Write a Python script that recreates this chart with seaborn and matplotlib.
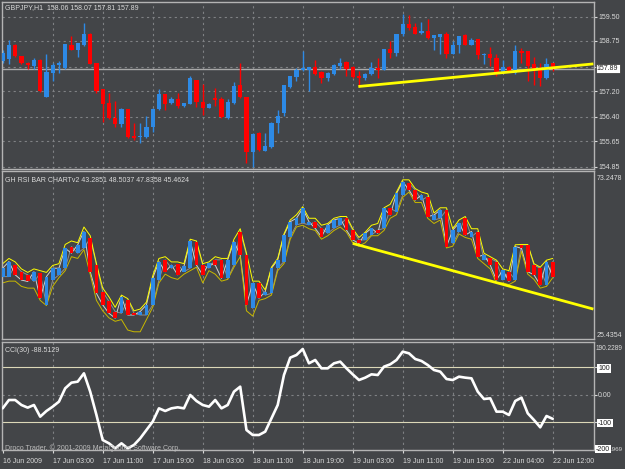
import matplotlib
matplotlib.use("Agg")
import matplotlib.pyplot as plt
import numpy as np
import pandas as pd
import seaborn as sns

# ---------------- data ----------------
opens = [158.12, 158.19, 158.64, 158.28, 158.06, 157.97, 158.15, 157.02, 157.76, 158.00,
         157.91, 158.64, 158.46, 158.64, 158.95, 158.06, 157.27, 156.84, 156.38, 156.17,
         156.63, 155.80, 155.77, 155.77, 156.08, 156.63, 157.11, 156.84, 156.96, 156.75,
         156.81, 157.54, 156.87, 156.69, 156.99, 156.96, 156.38, 156.84, 157.39, 157.02,
         155.31, 155.89, 155.34, 155.46, 156.20, 156.53, 157.33, 157.63, 157.85, 157.85,
         157.94, 157.79, 157.60, 157.73, 157.97, 158.09, 157.94, 157.67, 157.60, 157.73,
         157.91, 157.85, 158.49, 158.37, 158.95, 159.26, 159.19, 159.01, 159.07, 158.83,
         158.86, 158.98, 158.34, 158.64, 158.92, 158.64, 158.80, 158.31, 158.34, 158.22,
         157.79, 157.94, 157.76, 158.43, 158.43, 158.03, 157.88, 157.60, 158.06]
highs = [158.46, 158.77, 158.67, 158.28, 158.09, 158.22, 158.19, 158.34, 158.06, 158.12,
         158.67, 158.89, 158.70, 159.29, 159.01, 158.06, 157.27, 157.15, 156.90, 156.66,
         156.63, 156.20, 156.20, 156.44, 156.69, 157.27, 157.11, 157.02, 157.15, 156.84,
         157.67, 157.54, 157.42, 156.84, 157.30, 157.02, 156.96, 157.48, 158.06, 157.02,
         155.89, 155.92, 155.89, 156.23, 156.60, 157.39, 157.67, 157.91, 158.43, 157.94,
         158.15, 157.82, 157.79, 158.03, 158.22, 158.12, 157.97, 157.82, 157.76, 158.09,
         158.22, 158.49, 158.74, 158.95, 159.59, 159.56, 159.29, 159.35, 159.44, 158.92,
         158.98, 159.04, 158.74, 158.89, 158.95, 158.83, 158.80, 158.37, 158.55, 158.34,
         158.15, 157.97, 158.61, 158.52, 158.43, 158.25, 158.06, 158.22, 158.07]
lows = [158.06, 158.03, 158.25, 158.03, 157.88, 157.88, 157.18, 157.02, 157.51, 157.76,
        157.88, 158.46, 158.25, 158.58, 158.03, 157.15, 156.23, 156.35, 156.08, 156.08,
        155.74, 155.68, 155.59, 155.74, 155.92, 156.60, 156.60, 156.81, 156.69, 156.72,
        156.81, 156.72, 156.47, 156.66, 156.75, 156.38, 156.35, 156.81, 156.99, 154.97,
        154.85, 155.34, 155.34, 155.43, 155.89, 156.44, 157.30, 157.51, 157.82, 157.21,
        157.70, 157.45, 157.51, 157.70, 157.88, 157.67, 157.60, 157.36, 157.54, 157.70,
        157.60, 157.85, 158.22, 158.28, 158.89, 159.10, 158.95, 158.95, 158.80, 158.46,
        158.34, 158.22, 158.34, 158.37, 158.61, 158.61, 158.19, 158.03, 157.97, 157.67,
        157.76, 157.79, 157.73, 158.06, 157.51, 157.39, 157.36, 157.57, 157.81]
closes = [158.37, 158.61, 158.28, 158.06, 158.00, 158.15, 157.21, 157.79, 158.00, 158.06,
          158.67, 158.46, 158.70, 158.95, 158.03, 157.21, 156.81, 156.38, 156.17, 156.63,
          155.77, 155.74, 155.80, 156.08, 156.63, 157.11, 156.81, 156.96, 156.75, 156.84,
          157.60, 156.87, 156.69, 156.81, 156.93, 156.41, 156.87, 157.36, 157.02, 155.31,
          155.86, 155.37, 155.50, 156.20, 156.44, 157.39, 157.67, 157.85, 157.91, 157.94,
          157.73, 157.60, 157.76, 158.00, 158.06, 157.88, 157.63, 157.60, 157.73, 157.91,
          157.85, 158.49, 158.37, 158.95, 159.26, 159.16, 158.98, 159.07, 158.83, 158.92,
          158.95, 158.34, 158.64, 158.89, 158.64, 158.77, 158.31, 158.34, 158.22, 157.79,
          157.94, 157.82, 158.43, 158.37, 157.97, 157.82, 157.60, 158.03, 157.89]

rsi_open = [43.3, 43.3, 46.6, 44.7, 43.8, 41.9, 44.2, 35.2, 42.3, 43.8,
            45.7, 51.9, 50.0, 51.4, 54.3, 46.6, 39.0, 36.2, 33.3, 32.8,
            36.6, 32.8, 32.3, 32.3, 35.2, 42.3, 48.1, 45.7, 46.8, 44.7,
            45.7, 53.1, 46.6, 45.7, 48.1, 48.1, 42.8, 46.6, 56.2, 49.5,
            34.2, 41.4, 38.0, 38.5, 45.7, 47.6, 54.7, 58.1, 58.6, 58.1,
            59.0, 57.1, 55.7, 57.1, 58.1, 60.0, 56.6, 53.8, 53.8, 55.2,
            56.6, 57.1, 62.8, 61.9, 66.7, 70.0, 68.1, 65.2, 66.2, 59.5,
            60.0, 62.4, 52.8, 56.2, 60.0, 54.7, 56.2, 48.1, 48.5, 47.6,
            42.3, 44.7, 42.3, 52.4, 52.4, 46.6, 45.7, 40.9, 47.6]
rsi_close = [45.7, 47.6, 43.8, 42.3, 41.9, 44.7, 37.1, 43.3, 45.7, 45.7,
             51.4, 50.0, 52.4, 56.2, 44.7, 38.5, 35.2, 32.8, 31.4, 37.6,
             32.3, 32.3, 33.3, 35.2, 42.8, 47.6, 44.7, 46.6, 43.8, 46.2,
             53.5, 46.6, 43.8, 47.1, 46.6, 42.8, 48.1, 53.3, 49.5, 35.2,
             41.4, 37.1, 39.0, 45.7, 48.1, 55.2, 59.0, 60.0, 62.8, 59.0,
             57.1, 54.7, 58.1, 59.5, 60.0, 56.6, 53.8, 52.8, 55.7, 57.1,
             55.7, 62.8, 60.9, 67.1, 70.5, 68.1, 65.2, 66.7, 60.5, 60.9,
             62.4, 51.9, 56.6, 58.6, 55.2, 56.2, 49.0, 49.5, 46.6, 42.3,
             45.2, 41.9, 51.9, 51.4, 44.7, 43.8, 40.9, 47.6, 43.3]
rsi_high = [47.0, 48.5, 47.5, 45.5, 44.5, 45.5, 45.0, 44.5, 46.5, 47.0,
            52.5, 53.5, 53.0, 57.5, 55.0, 47.0, 40.0, 37.5, 34.5, 38.0,
            37.0, 33.5, 34.0, 36.0, 43.5, 48.5, 49.0, 47.5, 47.5, 47.0,
            54.0, 53.5, 47.0, 47.5, 49.0, 48.5, 48.5, 54.0, 57.0, 50.0,
            42.0, 42.0, 39.5, 46.0, 48.5, 55.5, 59.5, 61.0, 63.3, 60.0,
            60.0, 58.0, 58.5, 60.0, 60.5, 60.5, 57.0, 54.5, 56.0, 58.0,
            58.5, 63.0, 64.0, 67.5, 71.0, 71.0, 68.5, 67.5, 67.0, 61.5,
            63.0, 63.0, 57.0, 59.5, 60.5, 57.0, 57.0, 50.0, 49.0, 48.0,
            45.5, 45.0, 52.4, 52.5, 52.5, 47.0, 46.0, 48.0, 48.5]
rsi_low = [41.5, 42.0, 42.0, 40.5, 40.0, 40.0, 36.5, 35.0, 40.5, 43.0,
           45.0, 49.0, 48.5, 51.0, 44.0, 36.5, 33.5, 31.5, 30.5, 31.0,
           28.0, 27.5, 27.5, 31.0, 34.5, 41.5, 44.0, 43.0, 42.5, 44.0,
           45.0, 46.0, 41.5, 45.0, 44.0, 42.0, 42.5, 46.0, 49.0, 33.5,
           32.0, 36.5, 37.0, 38.0, 45.0, 47.0, 54.0, 57.5, 58.0, 57.0,
           56.5, 54.0, 55.0, 56.5, 57.5, 56.0, 53.0, 52.0, 53.0, 55.0,
           55.0, 56.5, 60.0, 61.0, 66.0, 67.5, 64.5, 64.5, 60.0, 58.5,
           59.5, 51.5, 52.0, 55.5, 54.5, 54.0, 48.5, 47.0, 45.5, 41.5,
           41.5, 41.0, 42.0, 50.5, 44.0, 42.5, 40.0, 40.5, 43.0]

cci = [-50.1, -19.7, -19.7, -37.9, -47.6, -37.9, -80.5, -59.8, -44.0, -25.7,
       22.9, 43.6, 47.3, 77.7, 10.8, -74.4, -165.7, -177.8, -196.1, -177.8,
       -196.1, -183.9, -159.6, -129.2, -98.7, -50.1, -59.8, -50.1, -46.4, -50.1,
       -1.4, -23.3, -37.9, -44.0, -19.7, -50.1, -37.9, 10.8, 29.0, -129.2,
       -147.4, -147.4, -135.2, -86.6, -37.9, 71.6, 134.9, 144.6, 166.5, 114.2,
       126.4, 95.9, 95.9, 114.2, 120.3, 95.9, 74.0, 53.3, 61.9, 74.0,
       71.6, 102.0, 110.5, 126.4, 156.8, 150.7, 130.0, 122.7, 108.1, 89.8,
       83.8, 57.0, 53.3, 65.5, 61.9, 59.4, 10.8, -16.0, -13.6, -62.2,
       -62.2, -74.4, -23.3, -11.1, -68.3, -92.7, -119.4, -78.1, -88.5]

time_labels = ["16 Jun 2009", "17 Jun 03:00", "17 Jun 11:00", "17 Jun 19:00",
               "18 Jun 03:00", "18 Jun 11:00", "18 Jun 19:00", "19 Jun 03:00",
               "19 Jun 11:00", "19 Jun 19:00", "22 Jun 04:00", "22 Jun 12:00"]
time_label_bars = [0, 8, 16, 24, 32, 40, 48, 56, 64, 72, 80, 88]

price_ticks = [159.50, 158.75, 157.95, 157.20, 156.40, 155.65, 154.85]
price_tick_labels = ["159.50", "158.75", "", "157.20", "156.40", "155.65", "154.85"]
last_price = 157.89
price_trend_bars = [56.9, 94.5]
price_trend_vals = [157.34, 158.04]
rsi_trend_bars = [56.0, 94.5]
rsi_trend_vals = [52.8, 34.0]
rsi_max, rsi_min = 73.2478, 25.4354
cci_levels = [100, -100]
cci_ticks = [100, 0, -100]
cci_tick_labels = ["100", "0.00", "-100"]

# ---------------- style ----------------
BG = "#434548"
FG = "#dadada"
BORDER = "#b4b4b4"
GRID = "#7f8184"
BULL = "#2d8ae6"
BEAR = "#ff0000"
YEL = "#ffff00"

sns.set_style("dark", rc={"axes.facecolor": BG, "figure.facecolor": BG})
plt.rcParams["font.family"] = ["Liberation Sans", "DejaVu Sans"]

W, H = 625, 469
fig = plt.figure(figsize=(W / 100, H / 100), dpi=100)
fig.patch.set_facecolor(BG)

bars = np.arange(len(opens))
grid_bars = [8, 16, 24, 32, 40, 48, 56, 64, 72, 80, 88]


def panel(top, bottom):
    ax = fig.add_axes([2 / W, 1 - bottom / H, 592 / W, (bottom - top) / H])
    ax.set_facecolor(BG)
    for s in ax.spines.values():
        s.set_visible(True)
        s.set_color(BORDER)
        s.set_linewidth(1)
    ax.set_xlim(-0.11, 94.6)
    ax.grid(False)
    ax.tick_params(axis="y", left=False, right=True, labelleft=False, labelright=True,
                   length=2, width=0.8, pad=1, labelsize=5, colors=FG)
    ax.tick_params(axis="x", bottom=False, labelbottom=False)
    for b in grid_bars:
        ax.axvline(b, ls=(0, (2, 3)), color=GRID, lw=0.8, zorder=0)
    return ax


# ---------------- price panel ----------------
ax1 = panel(2, 169)
ax1.set_ylim(154.788, 159.955)
ax1.set_yticks(price_ticks, price_tick_labels)
for p in price_ticks:
    ax1.axhline(p, ls=(0, (2, 3)), color=GRID, lw=0.8, zorder=0)
ax1.axhline(last_price, color="#a9a9a9", lw=1, zorder=1)

o = np.array(opens); c = np.array(closes)
up = c >= o
cols = np.where(up, BULL, BEAR)
ax1.vlines(bars, lows, highs, colors=cols, lw=1, zorder=2)
ax1.bar(bars, np.maximum(np.abs(c - o), 0.025), bottom=np.minimum(o, c), width=0.66,
        color=cols, linewidth=0, zorder=3)
ax1.plot(price_trend_bars, price_trend_vals, color=YEL, lw=2, zorder=4,
         solid_capstyle="butt")
ax1.text(1.005, last_price, "157.89", transform=ax1.get_yaxis_transform(), ha="left",
         va="center", fontsize=5, color="#202020",
         bbox=dict(boxstyle="square,pad=0.15", fc="white", ec="#303030", lw=0.5))

# ---------------- RSI bar chart panel ----------------
ax2 = panel(171, 339)
ax2.set_ylim(rsi_min, 73.53)
ax2.tick_params(axis="y", right=False, labelright=False)
df_rsi = pd.DataFrame({"bar": bars, "open": rsi_open, "close": rsi_close,
                       "high": rsi_high, "low": rsi_low})
sns.lineplot(data=df_rsi, x="bar", y="open", color="#8e8e8e", lw=0.7, ax=ax2, zorder=2)
sns.lineplot(data=df_rsi, x="bar", y="close", color="#cfcfcf", lw=0.7, ax=ax2, zorder=2)
sns.lineplot(data=df_rsi, x="bar", y="low", color="#c8b800", lw=0.7, ax=ax2, zorder=2)
sns.lineplot(data=df_rsi, x="bar", y="high", color=YEL, lw=0.7, ax=ax2, zorder=2)
ro = np.array(rsi_open); rc = np.array(rsi_close)
rcols = np.where(rc >= ro, BULL, BEAR)
ax2.bar(bars, np.abs(rc - ro), bottom=np.minimum(ro, rc), width=0.6, color=rcols,
        linewidth=0, zorder=3)
ax2.plot(rsi_trend_bars, rsi_trend_vals, color=YEL, lw=2, zorder=4, solid_capstyle="butt")
ax2.set_xlabel(""); ax2.set_ylabel("")

# ---------------- CCI panel ----------------
ax3 = panel(342, 450)
ax3.set_ylim(-202.2, 192.05)
ax3.axhline(0, ls=(0, (2, 3)), color=GRID, lw=0.8, zorder=0)
for lv in cci_levels:
    ax3.axhline(lv, color="#dcd8b8", lw=0.8, zorder=1)
df_cci = pd.DataFrame({"bar": bars, "cci": cci})
sns.lineplot(data=df_cci, x="bar", y="cci", color="white", lw=1.9, ax=ax3, zorder=3)
ax3.set_xlabel(""); ax3.set_ylabel("")
ax3.set_xlim(-0.11, 94.6)
ax3.set_yticks(cci_ticks, cci_tick_labels)
for t in ax3.get_yticklabels():
    if t.get_text() in ("100", "-100"):
        t.set_color("#202020")
        t.set_bbox(dict(boxstyle="square,pad=0.12", fc="white", ec="none"))
ax3.set_xticks(time_label_bars, time_labels)
ax3.tick_params(axis="x", bottom=True, labelbottom=True, length=2.5, width=0.8,
                direction="out", pad=3.5, labelsize=5, colors=FG)
for t in ax3.get_xticklabels():
    t.set_ha("left")

# ---------------- texts ----------------
def ftext(x, y, s, **kw):
    kw.setdefault("color", FG)
    kw.setdefault("fontsize", 5)
    fig.text(x / W, 1 - y / H, s, ha="left", va="center", **kw)

ftext(5, 7.5, "GBPJPY,H1  158.06 158.07 157.81 157.89")
ftext(5, 180, "GH RSI BAR CHARTv2 43.2851 48.5037 47.8358 45.4624")
ftext(5, 350.5, "CCI(30) -88.5129")
ftext(5, 448.5, "Droco Trader, \u00a9 2001-2009 MetaQuotes Software Corp.", color="#bcbcbc")
ftext(597, 178, "73.2478")
ftext(597, 335, "25.4354")
ftext(596, 348, "190.2289", fontsize=4.7)
ftext(596, 449, "-200", color="#202020",
      bbox=dict(boxstyle="square,pad=0.12", fc="white", ec="none"))
ftext(610.5, 449, ".969", fontsize=4.5)

fig.savefig("out.png", dpi=100, facecolor=BG)
